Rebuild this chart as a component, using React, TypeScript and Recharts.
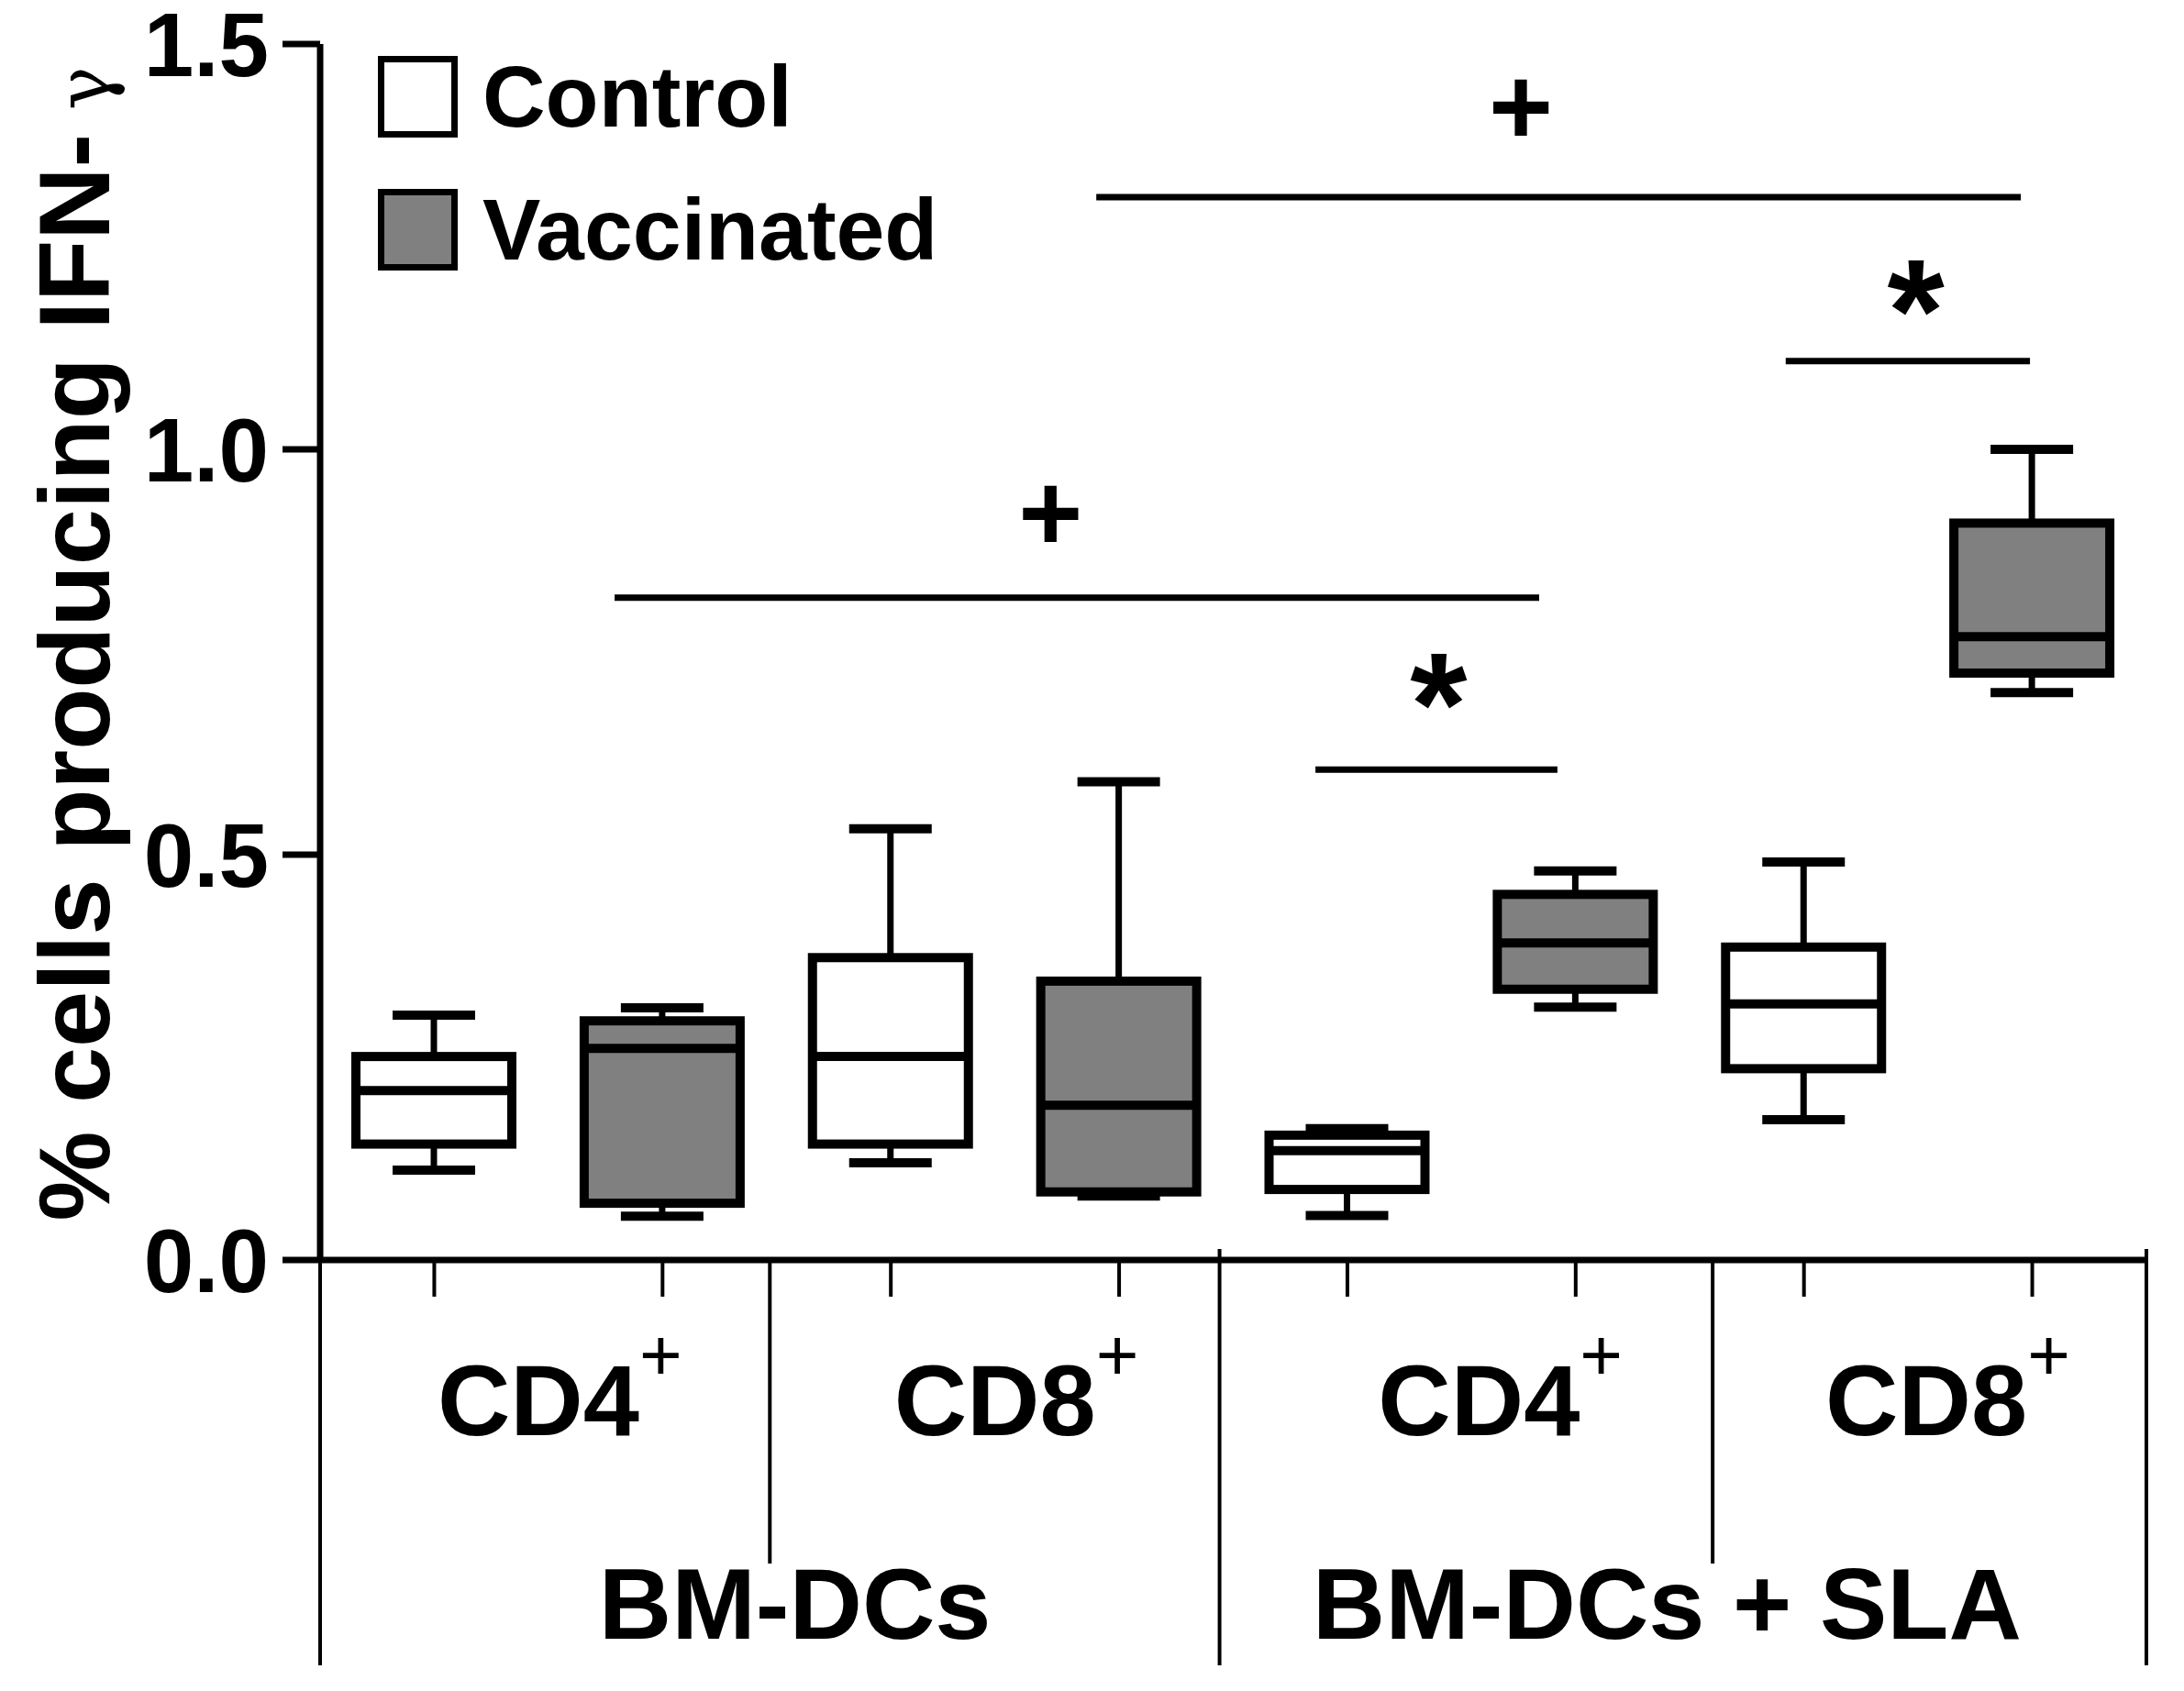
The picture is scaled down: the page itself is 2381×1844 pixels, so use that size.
import { ComposedChart, Bar, XAxis, YAxis, ReferenceLine, ReferenceDot, Legend } from 'recharts';

const FONT = '"Liberation Sans", Arial, Helvetica, sans-serif';

// one entry per box, left to right
const treatments = ['BM-DCs', 'BM-DCs', 'BM-DCs', 'BM-DCs', 'BM-DCs + SLA', 'BM-DCs + SLA', 'BM-DCs + SLA', 'BM-DCs + SLA'];
const cells = ['CD4+', 'CD4+', 'CD8+', 'CD8+', 'CD4+', 'CD4+', 'CD8+', 'CD8+'];
const groups = ['Control', 'Vaccinated', 'Control', 'Vaccinated', 'Control', 'Vaccinated', 'Control', 'Vaccinated'];
const maxs = [0.302, 0.311, 0.532, 0.59, 0.162, 0.48, 0.491, 1.0];
const q3s = [0.251, 0.295, 0.373, 0.344, 0.154, 0.451, 0.386, 0.909];
const medians = [0.209, 0.261, 0.251, 0.191, 0.135, 0.391, 0.316, 0.769];
const q1s = [0.143, 0.07, 0.143, 0.084, 0.087, 0.334, 0.236, 0.724];
const mins = [0.111, 0.054, 0.12, 0.079, 0.055, 0.312, 0.173, 0.7];

const legendGroups = ['Control', 'Vaccinated'];
const groupFill: Record<string, string> = { Control: '#ffffff', Vaccinated: '#808080' };

const yTicks = [0, 0.5, 1.0, 1.5];

// axis labels below the plot (positions in box-slot units, 0..8)
const cellLabels = ['CD4', 'CD8', 'CD4', 'CD8'];
const cellLabelPos = [1.05, 3.05, 5.17, 7.13];
const treatmentLabels = ['BM-DCs', 'BM-DCs + SLA'];
const treatmentLabelPos = [2.08, 5.9];
const dividerPos = [0, 1.97, 3.94, 6.1, 8];
const dividerLen = [442, 331, 442, 331, 442];
const dividerLift = [0, 0, 12, 0, 12];

// significance bars and marks
const sigX1 = [1.29, 4.36, 3.4, 6.42];
const sigX2 = [5.34, 5.42, 7.45, 7.49];
const sigY = [0.817, 0.605, 1.311, 1.109];
const markX = [3.2, 4.9, 5.26, 6.99];
const markY = [0.919, 0.723, 1.42, 1.208];
const markSymbol = ['+', '*', '+', '*'];

const boxData = groups.map((g, i) => ({
  id: `${treatments[i]} ${cells[i]} ${g}`,
  slot: i + 0.5,
  group: g,
  min: mins[i],
  q1: q1s[i],
  median: medians[i],
  q3: q3s[i],
  max: maxs[i],
}));

function BoxShape(props: any) {
  const { x, y, width, height, payload } = props;
  const top = Math.min(y, y + height);
  const span = Math.abs(height);
  const range = payload.max - payload.min;
  const py = (v: number) => top + (span * (payload.max - v)) / range;
  const cx = x + width / 2;
  const capHalf = 45;
  return (
    <g>
      <line x1={cx} x2={cx} y1={py(payload.max)} y2={py(payload.q3)} stroke="#000" strokeWidth={7} />
      <line x1={cx} x2={cx} y1={py(payload.q1)} y2={py(payload.min)} stroke="#000" strokeWidth={7} />
      <line x1={cx - capHalf} x2={cx + capHalf} y1={py(payload.max)} y2={py(payload.max)} stroke="#000" strokeWidth={10} />
      <line x1={cx - capHalf} x2={cx + capHalf} y1={py(payload.min)} y2={py(payload.min)} stroke="#000" strokeWidth={10} />
      <rect
        x={x}
        y={py(payload.q3)}
        width={width}
        height={py(payload.q1) - py(payload.q3)}
        fill={groupFill[payload.group]}
        stroke="#000"
        strokeWidth={10}
      />
      <line x1={x} x2={x + width} y1={py(payload.median)} y2={py(payload.median)} stroke="#000" strokeWidth={10} />
    </g>
  );
}

function LegendContent() {
  return (
    <div style={{ fontFamily: FONT }}>
      {legendGroups.map(g => (
        <div key={g} style={{ display: 'flex', alignItems: 'center', height: 145 }}>
          <div
            style={{
              width: 73,
              height: 75,
              border: '7px solid #000',
              background: groupFill[g],
              boxSizing: 'content-box',
            }}
          />
          <span style={{ marginLeft: 27, fontSize: 95, fontWeight: 'bold', lineHeight: 1, color: '#000' }}>{g}</span>
        </div>
      ))}
    </div>
  );
}

function YTitle(props: any) {
  const vb = props.viewBox || { x: 0, y: 48, width: 349, height: 1326 };
  const cx = 119;
  const cy = vb.y + vb.height / 2 - 9;
  return (
    <text
      x={cx}
      y={cy}
      transform={`rotate(-90, ${cx}, ${cy})`}
      textAnchor="middle"
      fontFamily={FONT}
      fontWeight="bold"
      fontSize={110}
      fill="#000"
    >
      % cells producing IFN-
      <tspan fontWeight="normal" fontFamily="'DejaVu Serif', serif" fontSize={80}> γ</tspan>
    </text>
  );
}

function DividerTick(props: any) {
  const { x, index } = props;
  const base = 1374;
  return (
    <line x1={x} x2={x} y1={base - dividerLift[index]} y2={base + dividerLen[index]} stroke="#000" strokeWidth={4} />
  );
}

function CellTick(props: any) {
  const { x, y, index } = props;
  return (
    <text x={x} y={y + 146} textAnchor="middle" fontFamily={FONT} fontWeight="bold" fontSize={110} fill="#000">
      {cellLabels[index]}
      <tspan dy={-60} fontSize={80} fontWeight="normal">+</tspan>
    </text>
  );
}

function TreatmentTick(props: any) {
  const { x, y, index } = props;
  return (
    <text x={x} y={y + 118} textAnchor="middle" fontFamily={FONT} fontWeight="bold" fontSize={110} fill="#000">
      {treatmentLabels[index]}
    </text>
  );
}

function markShape(symbol: string) {
  return (p: any) => {
    const size = symbol === '*' ? 160 : 120;
    const shift = symbol === '*' ? 0.55 : 0.33;
    return (
      <text
        x={p.cx}
        y={p.cy + size * shift}
        textAnchor="middle"
        fontFamily={FONT}
        fontWeight="bold"
        fontSize={size}
        fill="#000"
      >
        {symbol}
      </text>
    );
  };
}

function App() {
  return (
    <div style={{ position: 'absolute', left: 0, top: 0, background: '#fff' }}>
      <ComposedChart width={2381} height={1844} data={boxData} margin={{ top: 47, right: 41, bottom: 0, left: 0 }}>
        <XAxis
          xAxisId="a_box"
          dataKey="id"
          interval={0}
          height={45}
          tickSize={40}
          tickFormatter={() => ''}
          axisLine={{ stroke: '#000', strokeWidth: 7 }}
          tickLine={{ stroke: '#000', strokeWidth: 4 }}
        />
        <XAxis
          xAxisId="b_cell"
          dataKey="slot"
          type="number"
          domain={[0, 8]}
          allowDataOverflow
          ticks={cellLabelPos}
          interval={0}
          height={250}
          axisLine={false}
          tickLine={false}
          tickSize={0}
          tickMargin={0}
          tick={CellTick}
        />
        <XAxis
          xAxisId="c_treat"
          dataKey="slot"
          type="number"
          domain={[0, 8]}
          allowDataOverflow
          ticks={treatmentLabelPos}
          interval={0}
          height={175}
          axisLine={false}
          tickLine={false}
          tickSize={0}
          tickMargin={0}
          tick={TreatmentTick}
        />
        <XAxis
          xAxisId="d_sep"
          dataKey="slot"
          orientation="top"
          type="number"
          domain={[0, 8]}
          allowDataOverflow
          ticks={dividerPos}
          interval={0}
          height={1}
          axisLine={false}
          tickLine={false}
          tickSize={0}
          tickMargin={0}
          tick={DividerTick}
        />
        <XAxis xAxisId="e_num" dataKey="slot" type="number" domain={[0, 8]} allowDataOverflow hide />
        <YAxis
          width={349}
          domain={[0, 1.5]}
          ticks={yTicks}
          interval={0}
          tickSize={41}
          tickMargin={15}
          tickFormatter={(v: number) => v.toFixed(1)}
          tick={{ fontFamily: FONT, fontWeight: 'bold', fontSize: 98, fill: '#000' }}
          axisLine={{ stroke: '#000', strokeWidth: 7 }}
          tickLine={{ stroke: '#000', strokeWidth: 7 }}
          label={(p: any) => <YTitle {...p} />}
        />
        <Legend
          layout="vertical"
          align="center"
          verticalAlign="middle"
          wrapperStyle={{ left: 412, top: 33, width: 900 }}
          content={() => <LegendContent />}
        />
        <Bar
          xAxisId="a_box"
          dataKey={(d: any) => [d.min, d.max]}
          barSize={170}
          shape={BoxShape}
          isAnimationActive={false}
        />
        {sigX1.map((x1, i) => (
          <ReferenceLine
            key={`sig-${i}`}
            xAxisId="e_num"
            segment={[
              { x: x1, y: sigY[i] },
              { x: sigX2[i], y: sigY[i] },
            ]}
            stroke="#000"
            strokeWidth={7}
            ifOverflow="visible"
          />
        ))}
        {markX.map((mx, i) => (
          <ReferenceDot
            key={`mark-${i}`}
            xAxisId="e_num"
            x={mx}
            y={markY[i]}
            r={0}
            ifOverflow="visible"
            shape={markShape(markSymbol[i])}
          />
        ))}
      </ComposedChart>
    </div>
  );
}

export default App;
